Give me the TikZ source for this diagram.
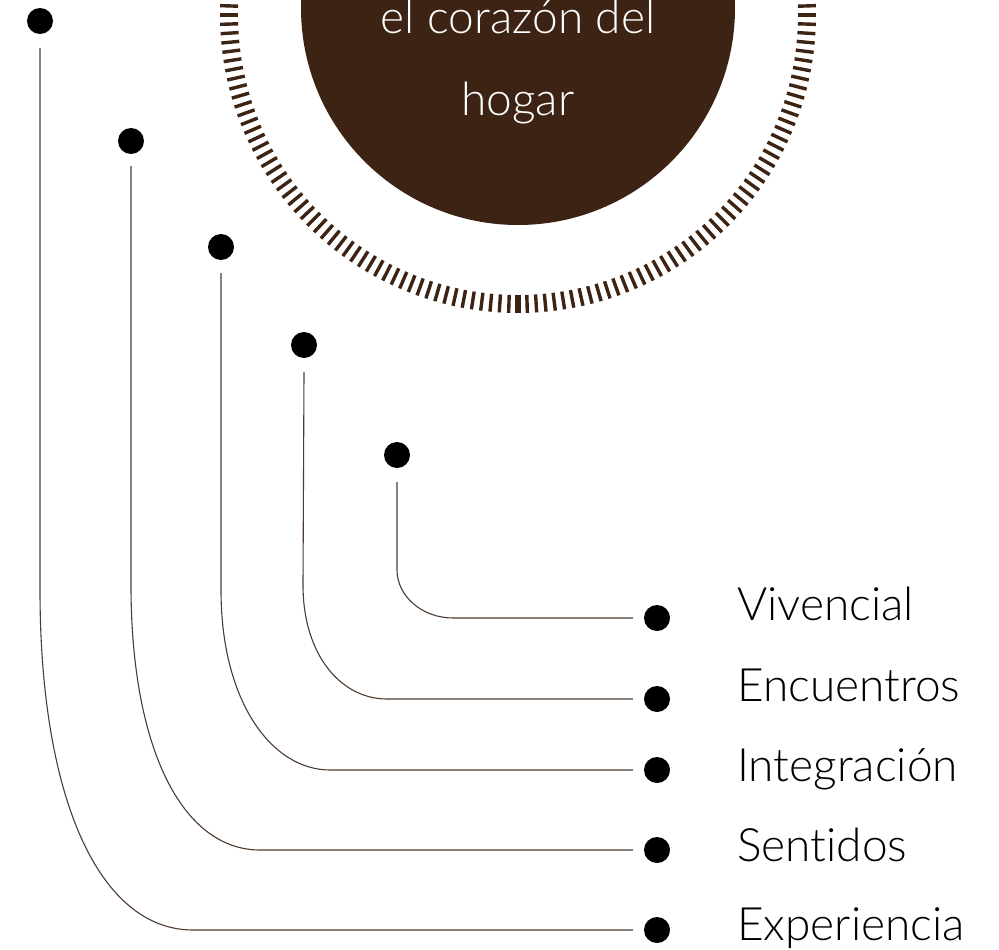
\documentclass[tikz,border=0pt]{standalone}
\usepackage{fontspec}
\setmainfont{Lato Light}[Ligatures={NoCommon,NoRare,NoDiscretionary}]
\definecolor{cafe}{RGB}{61,35,20}
\definecolor{linea}{RGB}{78,58,46}
\begin{document}
\begin{tikzpicture}[x=1pt,y=-1pt,
  dot/.style={circle,fill=black,inner sep=0pt,minimum size=26pt},
  conn/.style={draw=linea,line width=1.1pt},
  tickmark/.style={draw=cafe,line width=3.4pt},
  boldtick/.style={draw=cafe,line width=6pt},
  label/.style={anchor=base west,inner sep=0pt,font=\fontsize{46}{55}\selectfont},
  inner/.style={anchor=base,inner sep=0pt,text=white,font=\fontsize{46}{55}\selectfont}]
\useasboundingbox (0,0) rectangle (999,950);
\clip (0,0) rectangle (999,950);
% central disc and tick ring
\coordinate (ring) at (518,15);
\node[circle,fill=cafe,inner sep=0pt,minimum size=434pt] (disc) at (518,8) {};
\foreach \a in {0,1.8,...,359} {
  \draw[tickmark] ([shift={(\a:280)}]ring) -- ([shift={(\a:298)}]ring);
}
\draw[boldtick] ([shift={(90:280)}]ring) -- ([shift={(90:298)}]ring);
\node[inner] (l1) at (518,34) {el corazón del};
\node[inner] (l2) at (518,115) {hogar};
% top dots
\node[dot] (t1) at (40,21) {};
\node[dot] (t2) at (131,141) {};
\node[dot] (t3) at (221,247) {};
\node[dot] (t4) at (304,345) {};
\node[dot] (t5) at (397,455) {};
% right dots
\node[dot] (r1) at (657,618) {};
\node[dot] (r2) at (657,699) {};
\node[dot] (r3) at (657,770) {};
\node[dot] (r4) at (657,850) {};
\node[dot] (r5) at (657,930) {};
% labels
\node[label] (v) at (737,620) {Vivencial};
\node[label] (e) at (737,701) {Encuentros};
\node[label] (i) at (737,781) {Integración};
\node[label] (s) at (737,861) {Sentidos};
\node[label] (x) at (737,940) {Experiencia};
% connectors
\draw[conn] ([yshift=-14pt]t1.south) -- (40,590) .. controls (40,800) and (100,930) .. (193,930) -- ([xshift=-11pt]r5.west);
\draw[conn] ([yshift=-12pt]t2.south) -- (131,585) .. controls (131,750) and (183,850) .. (260,850) -- ([xshift=-11pt]r4.west);
\draw[conn] ([yshift=-13pt]t3.south) -- (221,590) .. controls (221,702) and (272,770) .. (330,770) -- ([xshift=-11pt]r3.west);
\draw[conn] ([yshift=-14pt]t4.south) -- (303,585) .. controls (303,655) and (341,699) .. (387,699) -- ([xshift=-11pt]r2.west);
\draw[conn] ([yshift=-14pt]t5.south) -- (397,570) .. controls (397,596) and (422,618) .. (453,618) -- ([xshift=-11pt]r1.west);
\end{tikzpicture}
\end{document}
